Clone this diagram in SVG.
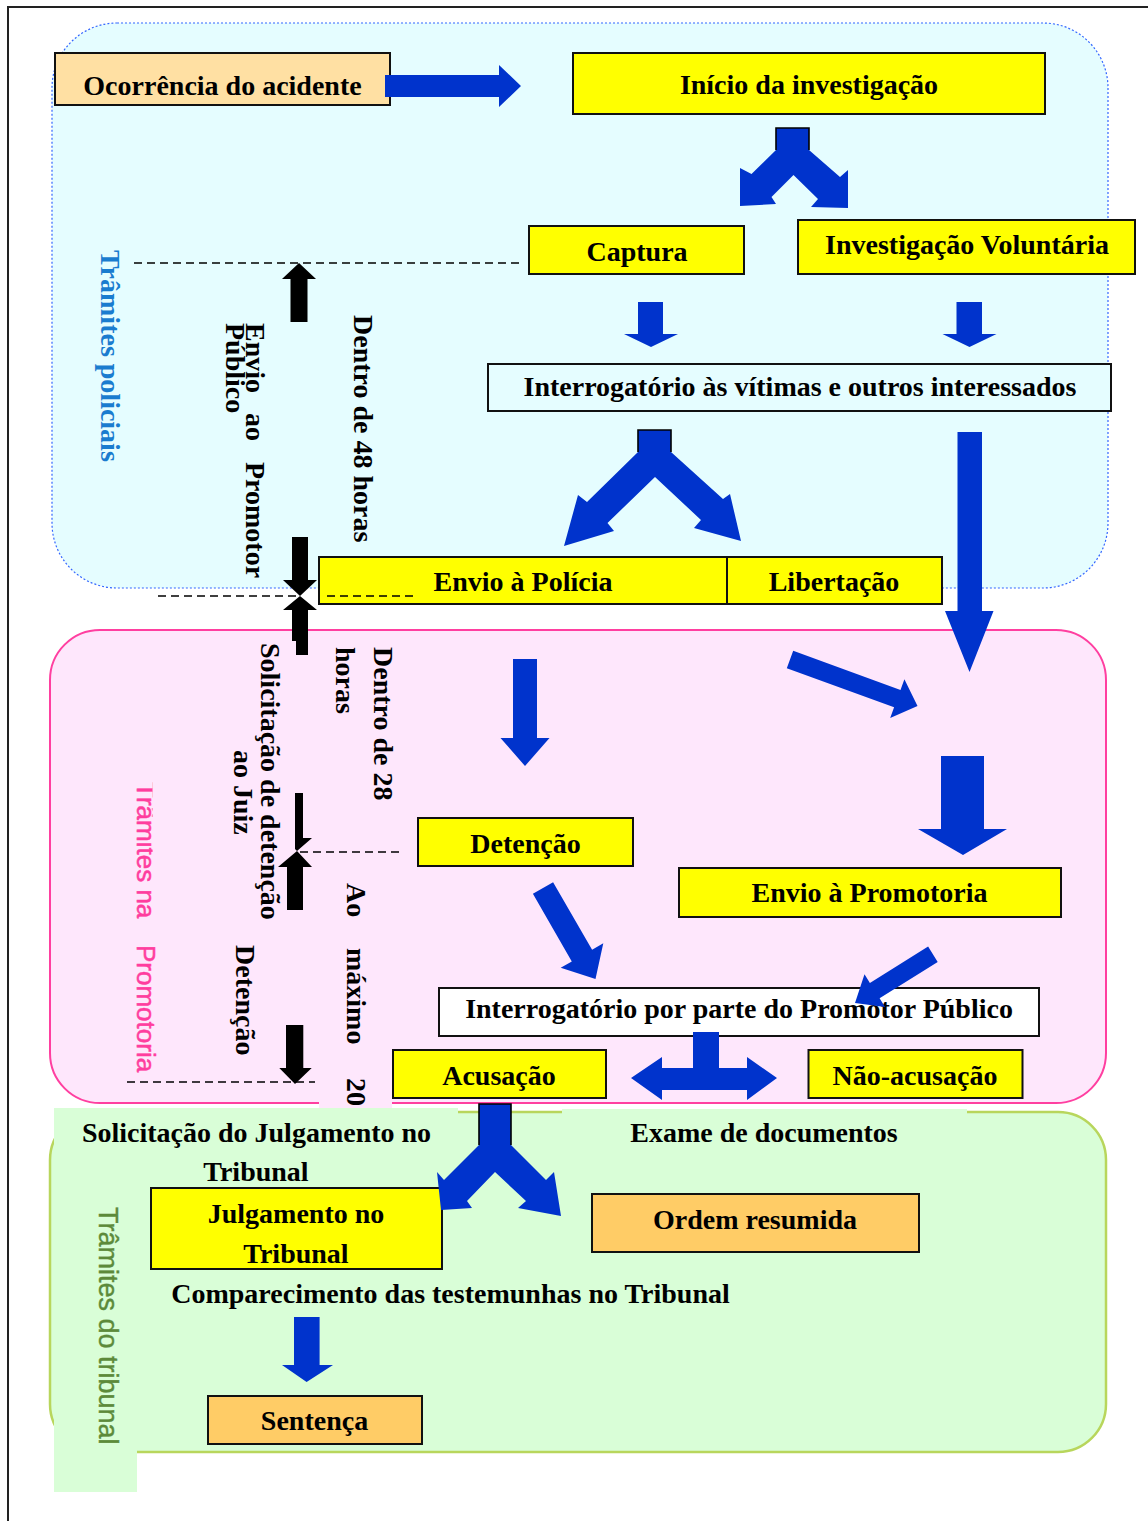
<svg xmlns="http://www.w3.org/2000/svg" width="1148" height="1521" viewBox="0 0 1148 1521">
<style>
.t{font-family:"Liberation Serif","Times New Roman",serif;font-weight:bold;font-size:28px;fill:#000}
.c{text-anchor:middle}
.lp{font-family:"Liberation Serif","Times New Roman",serif;font-weight:bold;font-size:28px;fill:#1a7ccf}
.sp{font-family:"Liberation Sans",Arial,sans-serif;font-size:26px;fill:#ff3d9e;stroke:#ff3d9e;stroke-width:0.5}
.sg{font-family:"Liberation Sans",Arial,sans-serif;font-size:27px;fill:#5c8a3a;stroke:#5c8a3a;stroke-width:0.4}
.yb{fill:#ffff00;stroke:#111;stroke-width:2}
.ob{fill:#ffcc66;stroke:#111;stroke-width:2}
.wb{stroke:#111;stroke-width:2}
.ar{fill:#0033cc}
.bk{fill:#000}
.dash{stroke:#000;stroke-width:1.6;stroke-dasharray:8 5;fill:none}
.stem{fill:none;stroke:#000;stroke-width:1.6}
</style>
<defs>
<clipPath id="clipTr"><rect x="100" y="770" width="52.5" height="160"/></clipPath>
</defs>

<!-- frame -->
<g id="frame">
<line x1="7" y1="7" x2="1148" y2="7" stroke="#222" stroke-width="2"/>
<line x1="8" y1="7" x2="8" y2="1521" stroke="#222" stroke-width="2"/>
</g>

<!-- regions -->
<g id="region-police">
<rect x="52" y="23" width="1056" height="565" rx="65" ry="65" fill="#e5fdff" stroke="#3366ff" stroke-width="1.2" stroke-dasharray="2 2"/>
</g>
<g id="region-prosecutor">
<rect x="50" y="630" width="1056" height="473" rx="50" ry="50" fill="#fee7fc" stroke="#ff3fa0" stroke-width="2"/>
<rect x="319" y="870" width="73" height="238" fill="#fee7fc"/>
</g>
<g id="region-court">
<rect x="50" y="1112" width="1056" height="340" rx="48" ry="48" fill="#d9fed7" stroke="#b8d65c" stroke-width="2.5"/>
<rect x="55" y="1108" width="403" height="80" fill="#d9fed7"/>
<rect x="562" y="1109" width="405" height="42" fill="#d9fed7"/>
<rect x="54" y="1108" width="83" height="384" fill="#d9fed7"/>
</g>

<!-- region labels -->
<g id="label-police">
<text class="lp" transform="translate(101,0) rotate(90)" x="250" y="0">Trâmites policiais</text>
</g>
<g id="label-prosecutor">
<g clip-path="url(#clipTr)">
<text class="sp" transform="translate(137,0) rotate(90)" x="782" y="0">Trâmites na</text>
</g>
<text class="sp" transform="translate(137,0) rotate(90)" x="945" y="0">Promotoria</text>
</g>
<g id="label-court">
<text class="sg" transform="translate(99,0) rotate(90)" x="1207" y="0">Trâmites do tribunal</text>
</g>

<!-- time labels -->
<g id="label-envio-promotor">
<text class="t" transform="translate(246,0) rotate(90)"><tspan x="323" y="0">Envio</tspan><tspan x="413" y="0">ao</tspan><tspan x="462" y="0">Promotor</tspan></text>
<text class="t" transform="translate(226,0) rotate(90)" x="323" y="0">Público</text>
</g>
<g id="label-48h">
<text class="t" transform="translate(354,0) rotate(90)" x="315" y="0">Dentro de 48 horas</text>
</g>
<g id="label-28h">
<text class="t" transform="translate(374,0) rotate(90)" x="647" y="0">Dentro de 28</text>
<text class="t" transform="translate(336,0) rotate(90)" x="647" y="0">horas</text>
</g>
<g id="label-solicitacao-juiz">
<text class="t" transform="translate(261,0) rotate(90)" x="643" y="0">Solicitação de detenção</text>
<text class="t" transform="translate(234,0) rotate(90)" x="750" y="0">ao Juiz</text>
</g>
<g id="label-max20">
<text class="t" transform="translate(347,0) rotate(90)"><tspan x="883" y="0">Ao</tspan><tspan x="948" y="0">máximo</tspan><tspan x="1078" y="0">20</tspan></text>
<text class="t" transform="translate(236,0) rotate(90)" x="945" y="0">Detenção</text>
</g>

<!-- nodes -->
<g id="n-ocorrencia">
<rect x="55" y="53" width="335" height="52" fill="#ffe0a3" stroke="#111" stroke-width="2"/>
<text class="t c" x="222.5" y="95">Ocorrência do acidente</text>
</g>
<g id="n-inicio">
<rect x="573" y="53" width="472" height="61" class="yb"/>
<text class="t c" x="809" y="94">Início da investigação</text>
</g>
<g id="n-captura">
<rect x="529" y="226" width="215" height="48" class="yb"/>
<text class="t c" x="637" y="261">Captura</text>
</g>
<g id="n-voluntaria">
<rect x="798" y="220" width="337" height="54" class="yb"/>
<text class="t c" x="967" y="254">Investigação Voluntária</text>
</g>
<g id="n-interrog-vitimas">
<rect x="488" y="364" width="623" height="47" fill="#e5fdff" class="wb"/>
<text class="t c" x="800" y="396">Interrogatório às vítimas e outros interessados</text>
</g>
<g id="n-envio-policia">
<rect x="319" y="557" width="408" height="47" class="yb"/>
<text class="t c" x="523" y="591">Envio à Polícia</text>
</g>
<g id="n-libertacao">
<rect x="727" y="557" width="215" height="47" class="yb"/>
<text class="t c" x="834" y="591">Libertação</text>
</g>
<g id="n-detencao">
<rect x="418" y="818" width="215" height="48" class="yb"/>
<text class="t c" x="525.5" y="853">Detenção</text>
</g>
<g id="n-envio-promotoria">
<rect x="679" y="868" width="382" height="49" class="yb"/>
<text class="t c" x="869.5" y="902">Envio à Promotoria</text>
</g>
<g id="n-interrog-promotor">
<rect x="439" y="988" width="600" height="48" fill="#ffffff" class="wb"/>
<text class="t c" x="739" y="1018">Interrogatório por parte do Promotor Público</text>
</g>
<g id="n-acusacao">
<rect x="393" y="1050" width="213" height="48" class="yb"/>
<text class="t c" x="499" y="1085">Acusação</text>
</g>
<g id="n-nao-acusacao">
<rect x="808.5" y="1050" width="214" height="48" class="yb"/>
<text class="t c" x="915" y="1085">Não-acusação</text>
</g>
<g id="n-solicitacao-julgamento">
<text class="t c" x="256.5" y="1142">Solicitação do Julgamento no</text>
<text class="t c" x="256" y="1181">Tribunal</text>
</g>
<g id="n-exame">
<text class="t c" x="764" y="1142">Exame de documentos</text>
</g>
<g id="n-julgamento">
<rect x="151" y="1188" width="291" height="81" class="yb"/>
<text class="t c" x="296" y="1223">Julgamento no</text>
<text class="t c" x="296" y="1263">Tribunal</text>
</g>
<g id="n-ordem">
<rect x="592" y="1194" width="327" height="58" class="ob"/>
<text class="t c" x="755" y="1229">Ordem resumida</text>
</g>
<g id="n-comparecimento">
<text class="t c" x="450.5" y="1303">Comparecimento das testemunhas no Tribunal</text>
</g>
<g id="n-sentenca">
<rect x="208" y="1396" width="214" height="48" class="ob"/>
<text class="t c" x="314.5" y="1430">Sentença</text>
</g>

<!-- connectors -->
<g id="connectors">
<polygon class="ar" points="385,75 499,75 499,65 521,86 499,107 499,97 385,97"/>
<polygon class="ar" points="776,128 809,128 809,150 840,177 848,170 848,208 811,207 818,199 793.5,175 771.5,197 776,204 740,206 740,168 751.5,174 776,150"/>
<polyline class="stem" points="776,150 776,128 809,128 809,150"/>
<polygon class="ar" points="638,302 663,302 663,334 678,334 651,347 624,334 638,334"/>
<polygon class="ar" points="956.5,302 982,302 982,334 996.5,334 969.5,347 942.5,334 956.5,334"/>
<polygon class="ar" points="638,430 671,430 671,452 723,499 730,494 741,541 694,528 701,520 655,477 607.5,523 614,531 564,546 578,495 587,502 638,452"/>
<polyline class="stem" points="638,452 638,430 671,430 671,452"/>
<polygon class="ar" points="957.5,432 982,432 982,611 993.5,611 969.5,672 945,611 957.5,611"/>
<polygon class="ar" points="513,659 537,659 537,738 549.5,738 525,766 500.5,738 513,738"/>
<polygon class="ar" points="786.8,668.2 894.1,707.3 890.2,718.1 917.5,706 904.4,679.2 900.5,689.9 793.2,650.8"/>
<polygon class="ar" points="941,756 984,756 984,829 1007,829 963,855 918,829 941,829"/>
<polygon class="ar" points="532.9,893.8 571.8,961.4 560.7,967.8 595.5,979 603.3,943.2 592.1,949.7 553.1,882.2"/>
<polygon class="ar" points="928.1,946.5 869.9,982.9 864.5,974.3 855,1003 885,1007 879.6,998.3 937.7,961.9"/>
<polygon class="ar" points="693,1032 719,1032 719,1068 747,1068 747,1057 777,1078 747,1100 747,1090 662,1090 662,1100 631,1078 662,1057 662,1068 693,1068"/>
<polygon class="ar" points="479,1104 511,1104 511,1145 546,1180 554,1172 561,1216 518,1208 526,1201 495,1172 467,1201 472,1208 441,1210 437,1172 444,1180 479,1145"/>
<polyline class="stem" points="479,1145 479,1104 511,1104 511,1145"/>
<polygon class="ar" points="294,1317 319.6,1317 319.6,1365 333,1365 306.6,1382 282,1365 294,1365"/>

<line class="dash" x1="134" y1="263" x2="520" y2="263"/>
<line class="dash" x1="158" y1="596" x2="300" y2="596"/>
<line class="dash" x1="327" y1="596" x2="418" y2="596"/>
<line class="dash" x1="300" y1="852" x2="400" y2="852"/>
<line class="dash" x1="127" y1="1082" x2="315" y2="1082"/>

<polygon class="bk" points="299,263 316,279 307.5,279 307.5,322 290.5,322 290.5,279 282,279"/>
<polygon class="bk" points="292,537 308,537 308,580 317,580 300,596 283,580 292,580"/>
<polygon class="bk" points="300,596 317,610 308,610 308,655 296,655 296,641 292,641 292,610 283,610"/>
<polygon class="bk" points="295,793 303,793 303,838 312,838 297,851 295,849"/>
<polygon class="bk" points="297,851 312,867 303,867 303,910 287,910 287,867 278,867"/>
<polygon class="bk" points="286,1025 303.3,1025 303.3,1068 311.7,1068 295,1084 279.3,1068 286,1068"/>
</g>
</svg>
